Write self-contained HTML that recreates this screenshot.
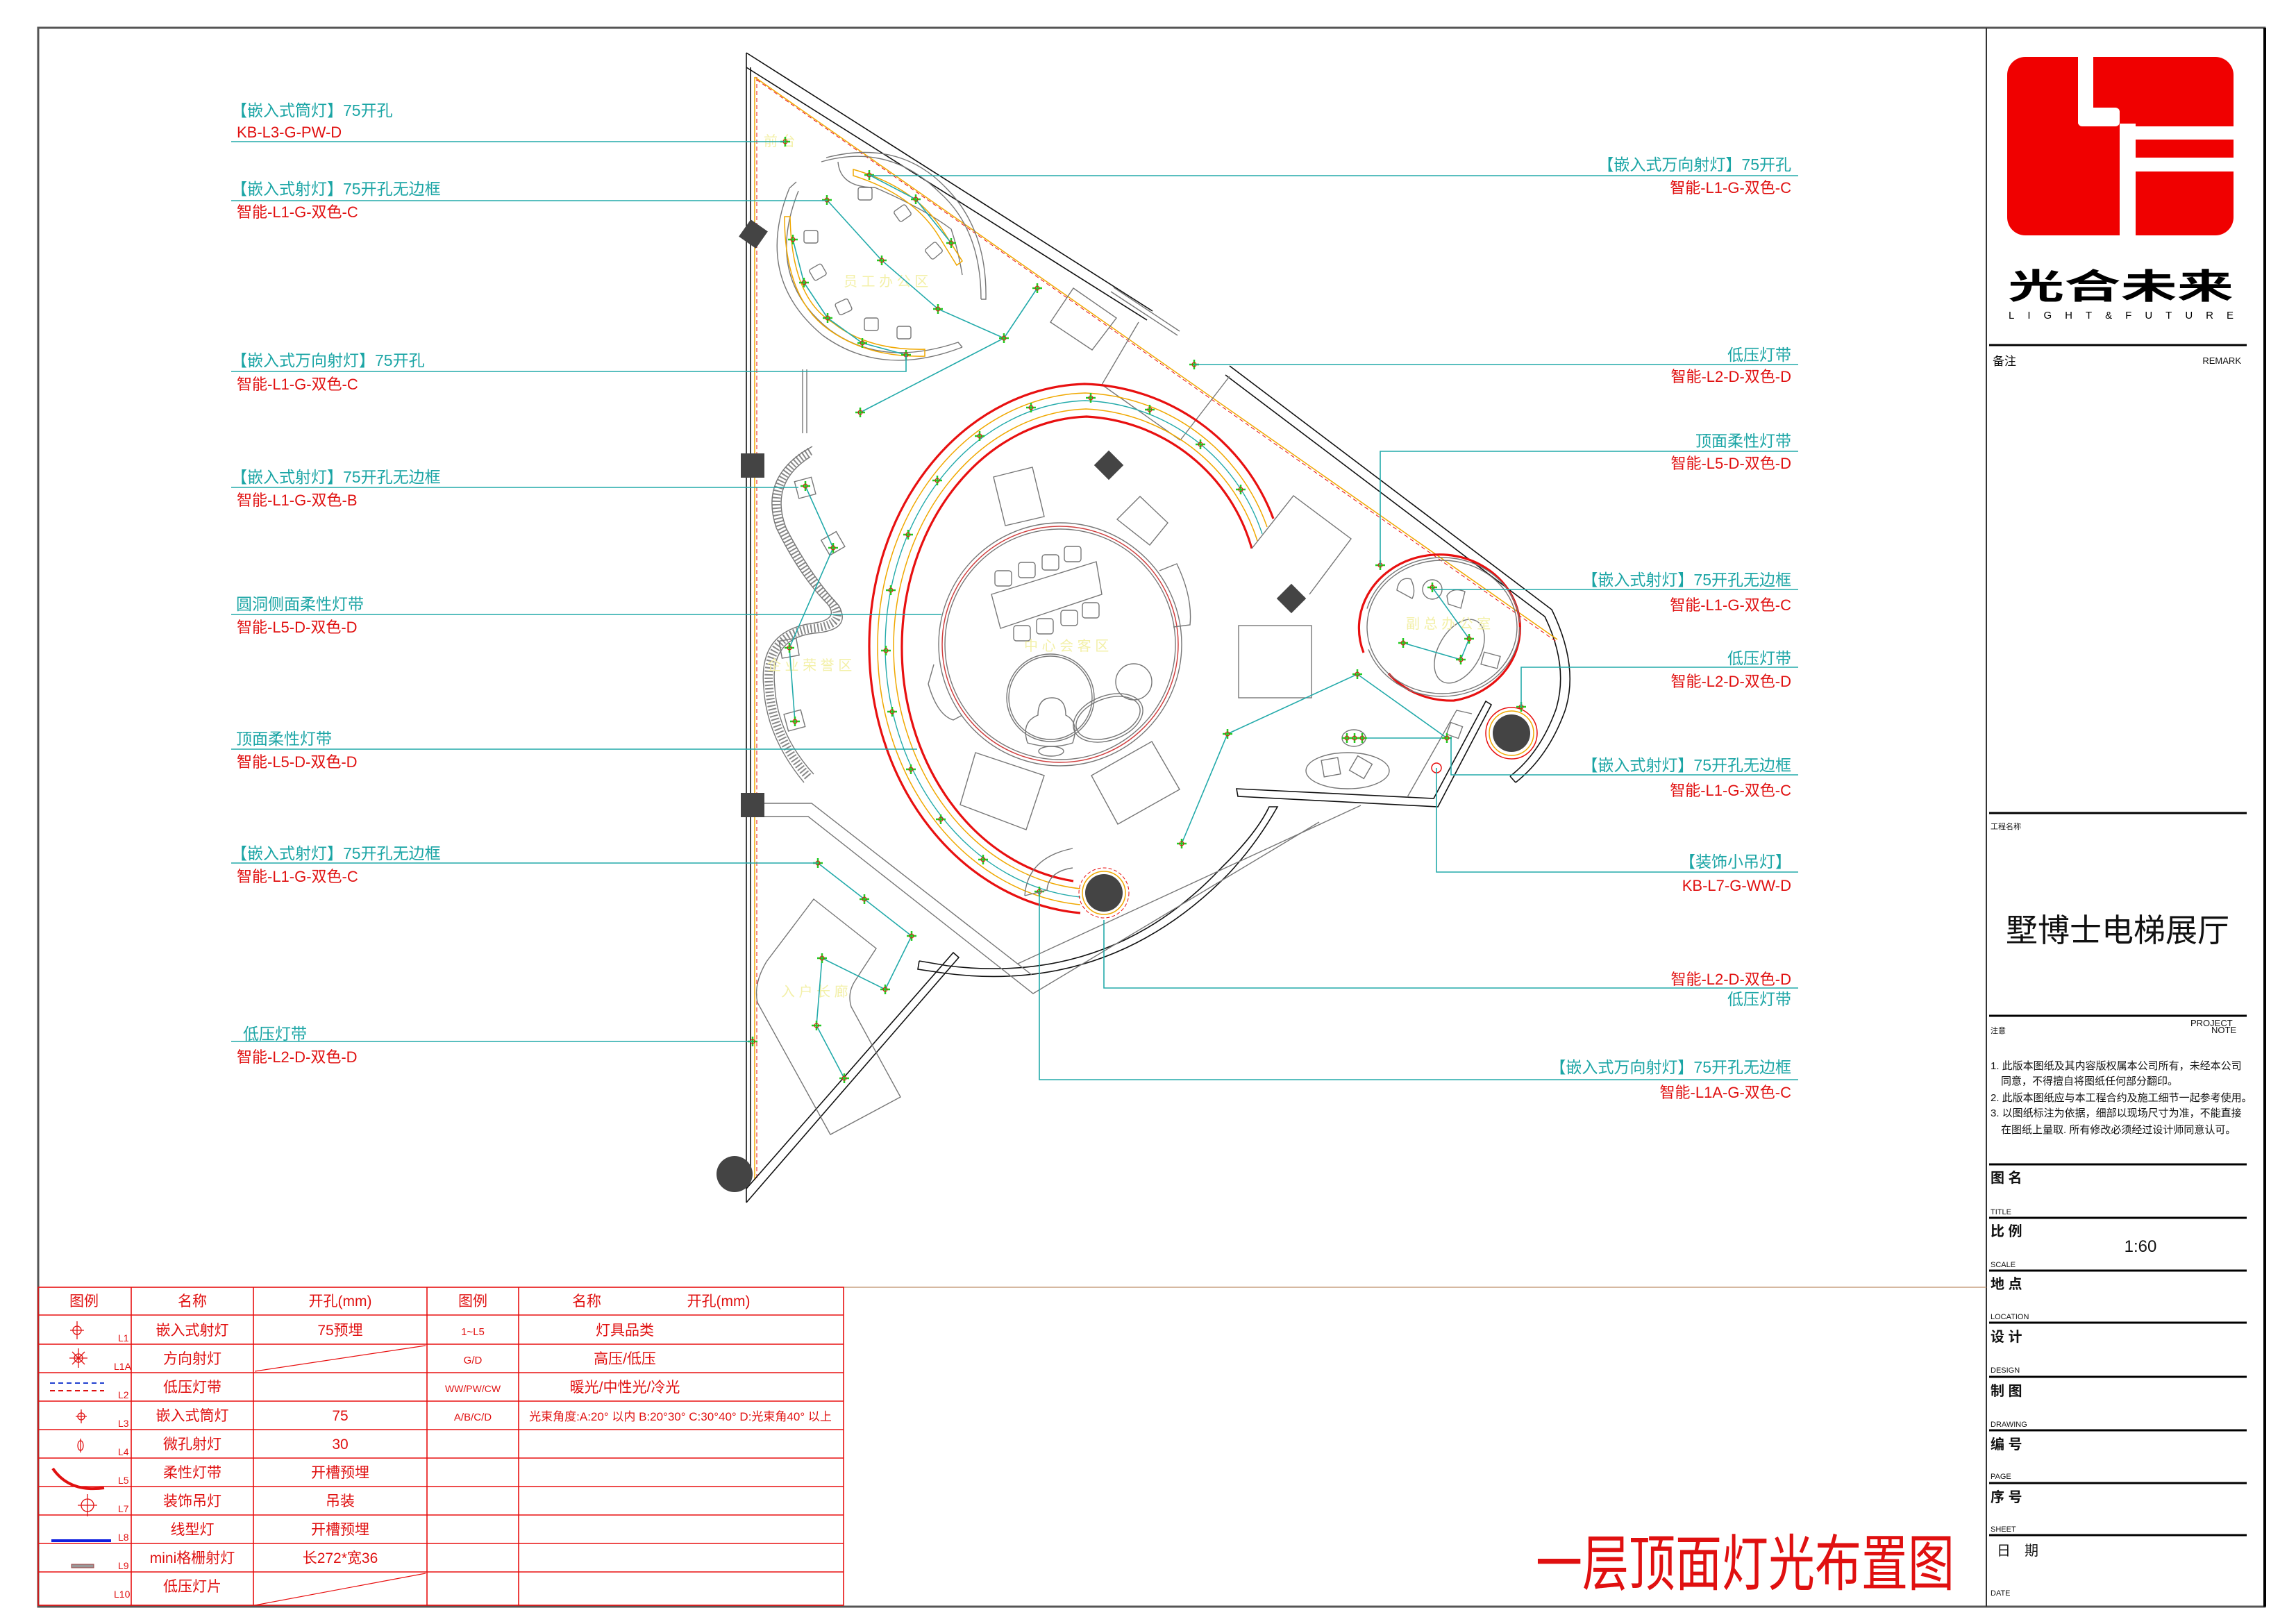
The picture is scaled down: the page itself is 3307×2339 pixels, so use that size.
<!DOCTYPE html>
<html><head><meta charset="utf-8"><style>
html,body{margin:0;padding:0;background:#fff}
svg{display:block}
text{font-family:"Liberation Sans","Noto Sans CJK SC",sans-serif}
.c{fill:#1ba5a5;font-size:23px}
.r{fill:#e01010;font-size:22px}
.t{fill:#e01010;font-size:21px;text-anchor:middle}
.ln{stroke:#22aaaa;stroke-width:1.6;fill:none}
.g{stroke:#777;stroke-width:1.4;fill:none}
.k{stroke:#111;stroke-width:1.6;fill:none}
.rd{stroke:#e81010;stroke-width:3.2;fill:none}
.or{stroke:#f0a800;stroke-width:1.5;fill:none}
.cy{stroke:#22aaaa;stroke-width:1.4;fill:none}
.tb{stroke:#e81010;stroke-width:1.6}
.y{fill:#f3f0a8;font-size:20px}
.s{font-size:11px;fill:#111}
.b{font-size:20px;font-weight:bold;fill:#111}
</style></head><body>
<svg width="3307" height="2339" viewBox="0 0 3307 2339" xmlns="http://www.w3.org/2000/svg">
<defs>
<g id="m"><path d="M-7,0H7M0,-7V7" stroke="#22cc22" stroke-width="2.5"/><circle r="3" fill="none" stroke="#e01010" stroke-width="1"/></g>
</defs>
<!-- frame -->
<rect x="55" y="40" width="3207" height="2274" fill="none" stroke="#555" stroke-width="3"/>
<line x1="2861" y1="40" x2="2861" y2="2314" stroke="#333" stroke-width="2"/>
<line x1="3262" y1="40" x2="3262" y2="2314" stroke="#000" stroke-width="4"/>
<line x1="1215" y1="1854" x2="2861" y2="1854" stroke="#c8a080" stroke-width="1.5"/>

<!-- ===== PLAN ===== -->
<!-- outer walls -->
<path class="k" d="M1075,76 V1732"/>
<path class="k" d="M1081,97 V1700"/>
<path d="M1087,111 V1700" stroke="#f0a800" stroke-width="1.5" fill="none"/>
<path d="M1090,111 V1700" stroke="#e81010" stroke-width="1" stroke-dasharray="6 4" fill="none"/>
<path class="k" d="M1075,76 L1660,448"/>
<path class="k" d="M1075,97 L1652,461"/>
<path class="k" d="M1771,527 L2235,878 Q2275,960 2254,1024 Q2230,1090 2183,1127"/>
<path class="k" d="M1765,540 L2225,888 Q2260,960 2241,1022 Q2218,1085 2175,1118"/>
<path class="k" d="M2175,1118 L2183,1127"/>
<path d="M1087,111 L2243,921" stroke="#f0a800" stroke-width="1.5" fill="none"/>
<path d="M1090,115 L2243,925" stroke="#e81010" stroke-width="1" stroke-dasharray="6 4" fill="none"/>
<path class="g" d="M1600,420 L1696,483 M1604,414 L1699,477"/>
<path class="g" d="M1640,464 L1587,554 L1700,634 M1771,542 L1700,634"/>
<!-- bottom diagonal wall -->
<path class="k" d="M1075,1732 L1381,1379 L1373,1372 L1075,1712"/>
<path class="k" d="M1324,1384 L1365,1391 M1324,1384 L1322,1396 L1363,1402"/>
<path class="k" d="M1365,1391 Q1600,1420 1760,1249 Q1810,1200 1828,1162 L1840,1162 Q1810,1215 1770,1258 Q1600,1432 1363,1402"/>
<path class="g" d="M1101,1157 L1169,1157 L1486,1404 M1101,1176 L1164,1176 L1488,1431 L1900,1184"/>
<path class="g" d="M1466,1388 L1960,1160"/>
<!-- entry room -->
<path class="g" d="M1172,1295 L1262,1366 L1232,1412 Q1220,1430 1226,1450 L1297,1580 L1196,1634 L1091,1444 Q1085,1417 1104,1385 Z"/>
<!-- dark items -->
<rect x="1067" y="1142" width="34" height="35" fill="#444"/>
<rect x="1067" y="653" width="34" height="35" fill="#444"/>
<rect x="1070" y="322" width="30" height="30" fill="#444" transform="rotate(35 1085 337)"/>
<circle cx="1058" cy="1691" r="26" fill="#444"/>
<rect x="1582" y="655" width="30" height="30" fill="#444" transform="rotate(45 1597 670)"/>
<rect x="1845" y="847" width="30" height="30" fill="#444" transform="rotate(45 1860 862)"/>
<!-- top-left workstation -->
<path class="g" d="M1137,271 Q1085,400 1185,483 Q1270,545 1386,500"/>
<path class="g" d="M1147,262 L1137,271 M1150,275 Q1100,400 1195,475 Q1270,530 1380,493 L1386,500"/>
<path class="or" d="M1138,312 Q1140,430 1200,465 Q1250,505 1332,503 L1332,513 Q1250,515 1194,475 Q1130,430 1130,312 Z"/>
<path class="g" d="M1183,233 Q1280,205 1353,277 Q1413,330 1413,431 M1190,227 Q1295,200 1362,270 Q1422,330 1420,431 L1413,431"/>
<path class="g" d="M1207,233 Q1210,270 1260,270 Q1330,300 1370,330 Q1380,360 1386,396"/>
<path class="or" d="M1229,244 Q1320,270 1360,335 L1386,376 L1378,382 L1352,340 Q1315,280 1229,253 Z"/>
<g class="g">
<rect x="1236" y="270" width="20" height="18" rx="3"/><rect x="1290" y="298" width="20" height="18" rx="3" transform="rotate(-35 1300 307)"/>
<rect x="1335" y="352" width="20" height="18" rx="3" transform="rotate(-40 1345 361)"/><rect x="1158" y="332" width="20" height="18" rx="3"/>
<rect x="1168" y="383" width="20" height="18" rx="3" transform="rotate(-30 1178 392)"/><rect x="1205" y="433" width="20" height="18" rx="3" transform="rotate(-25 1215 442)"/>
<rect x="1245" y="458" width="20" height="18" rx="3"/><rect x="1292" y="470" width="20" height="18" rx="3"/>
</g>
<path class="g" d="M1156,532 V624 M1162,532 V624"/>
<!-- wavy wall -->
<path d="M1167,650 Q1100,690 1125,760 Q1160,830 1200,870 Q1220,900 1170,905 Q1100,915 1108,990 Q1112,1060 1165,1120" fill="none" stroke="#888" stroke-width="12" stroke-dasharray="2 3"/>
<path class="g" d="M1170,643 Q1093,685 1118,760 Q1152,830 1192,870 Q1210,893 1168,898 Q1092,910 1100,990 Q1104,1062 1158,1127 M1167,658 Q1108,695 1132,760 Q1168,830 1208,872 Q1228,908 1172,912 Q1108,920 1116,990 Q1120,1058 1172,1115"/>
<g class="g"><rect x="1147" y="690" width="25" height="25" transform="rotate(-15 1160 702)"/><rect x="1187" y="770" width="25" height="25" transform="rotate(-30 1200 782)"/><rect x="1124" y="921" width="25" height="25" transform="rotate(-10 1137 933)"/><rect x="1132" y="1025" width="25" height="25" transform="rotate(-15 1145 1038)"/></g>
<!-- ring -->
<path class="rd" d="M1834,747 A300,300 0 0 0 1562,553 A318,377 0 0 0 1252,930 A330,385 0 0 0 1556,1315"/>
<path class="or" d="M1825,759 A290,290 0 0 0 1563,566 A306,365 0 0 0 1264,930 A318,373 0 0 0 1556,1303"/>
<path class="cy" d="M1818,769 A280,280 0 0 0 1563,577 A296,355 0 0 0 1275,930 A308,363 0 0 0 1556,1292"/>
<path class="or" d="M1811,779 A272,272 0 0 0 1564,589 A286,344 0 0 0 1287,930 A296,351 0 0 0 1556,1280"/>
<path class="rd" d="M1803,790 A262,262 0 0 0 1565,600 A274,332 0 0 0 1299,930 A284,339 0 0 0 1546,1269"/>
<g><use href="#m" x="1571" y="573"/><use href="#m" x="1485" y="587"/><use href="#m" x="1656" y="590"/><use href="#m" x="1411" y="628"/><use href="#m" x="1729" y="640"/><use href="#m" x="1350" y="692"/><use href="#m" x="1787" y="705"/><use href="#m" x="1308" y="770"/><use href="#m" x="1283" y="850"/><use href="#m" x="1276" y="937"/><use href="#m" x="1285" y="1025"/><use href="#m" x="1312" y="1108"/><use href="#m" x="1355" y="1180"/><use href="#m" x="1416" y="1238"/><use href="#m" x="1497" y="1284"/></g>
<!-- meeting room -->
<circle cx="1527" cy="928" r="175" class="g"/>
<circle cx="1527" cy="928" r="170" fill="none" stroke="#d04040" stroke-width="1.5"/>
<circle cx="1527" cy="928" r="166" class="g"/>
<path class="g" d="M1670,822 L1695,812 Q1718,860 1714,900 L1690,903 M1345,957 L1337,985 Q1350,1030 1373,1037 L1386,1030"/>
<g class="g">
<path d="M1431,687 L1487,673 L1504,744 L1448,757 Z"/><path d="M1609,748 L1642,715 L1682,753 L1656,785 Z"/>
<rect x="1784" y="901" width="105" height="104"/><path d="M1383,1159 L1405,1084 L1504,1117 L1478,1195 Z"/><path d="M1572,1117 L1659,1068 L1699,1137 L1610,1187 Z"/>
<path d="M1803,790 L1863,714 L1946,776 L1886,856"/><path d="M1513,464 L1546,415 L1608,458 L1573,504 Z"/>
<path d="M1428,856 L1579,809 L1587,856 L1441,905 Z"/>
<rect x="1433" y="822" width="24" height="22" rx="4"/><rect x="1467" y="810" width="24" height="22" rx="4"/><rect x="1501" y="799" width="24" height="22" rx="4"/><rect x="1533" y="787" width="24" height="22" rx="4"/>
<rect x="1460" y="901" width="24" height="22" rx="4"/><rect x="1493" y="891" width="24" height="22" rx="4"/><rect x="1528" y="879" width="24" height="22" rx="4"/><rect x="1559" y="868" width="24" height="22" rx="4"/>
<circle cx="1513" cy="1005" r="63"/><circle cx="1513" cy="1005" r="60"/>
<path d="M1480,1070 Q1470,1040 1495,1030 Q1495,1005 1515,1005 Q1535,1005 1535,1030 Q1555,1040 1545,1070 Q1515,1080 1480,1070 Z"/>
<ellipse cx="1596" cy="1034" rx="52" ry="32" transform="rotate(-20 1596 1034)"/><ellipse cx="1596" cy="1034" rx="48" ry="28" transform="rotate(-20 1596 1034)"/>
<circle cx="1633" cy="982" r="26"/><ellipse cx="1514" cy="1082" rx="18" ry="7"/>
</g>
<path class="g" d="M1476,1290 Q1480,1235 1545,1222 M1476,1290 L1508,1282 Q1510,1255 1545,1250"/>
<circle cx="1590" cy="1286" r="27" fill="#444"/>
<circle cx="1590" cy="1286" r="31" fill="none" stroke="#f0a800" stroke-width="1.5"/>
<circle cx="1590" cy="1286" r="36" fill="none" stroke="#e81010" stroke-width="1" stroke-dasharray="5 3"/>
<!-- right office -->
<path class="rd" d="M1964,940 A116,106 0 1 1 2094,1009 A116,106 0 0 1 2000,970"/>
<ellipse cx="2077" cy="903" rx="108" ry="96" class="g"/>
<ellipse cx="2077" cy="903" rx="112" ry="100" class="g" stroke-dasharray="300 60"/>
<ellipse cx="2102" cy="938" rx="30" ry="50" class="g" transform="rotate(30 2102 938)"/>
<circle cx="2063" cy="849" r="14" class="g"/>
<g class="g"><path d="M2012,850 Q2015,830 2032,834 Q2040,850 2034,862 Z"/><path d="M2084,858 Q2092,845 2110,852 L2104,876 L2086,870 Z"/><rect x="2135" y="942" width="24" height="18" transform="rotate(15 2147 951)"/></g>
<circle cx="2177" cy="1056" r="27" fill="#444"/>
<circle cx="2177" cy="1056" r="32" fill="none" stroke="#f0a800" stroke-width="1.5"/>
<circle cx="2177" cy="1056" r="37" fill="none" stroke="#e81010" stroke-width="1.5"/>
<path class="k" d="M1781,1136 L2065,1150 L2140,1010 L2148,1015 L2071,1162 L1783,1147 Z"/>
<path class="g" d="M2027,1148 L2098,1023 L2120,1028"/>
<ellipse cx="1941" cy="1110" rx="60" ry="26" class="g"/>
<g class="g"><rect x="1905" y="1093" width="24" height="24" transform="rotate(-10 1917 1105)"/><rect x="1948" y="1093" width="24" height="24" transform="rotate(30 1960 1105)"/><rect x="2086" y="1043" width="18" height="18" transform="rotate(20 2095 1052)"/></g>
<ellipse cx="1950" cy="1063" rx="17" ry="12" class="g"/>
<circle cx="2069" cy="1106" r="7" fill="none" stroke="#e81010" stroke-width="1.5"/>
<!-- room labels -->
<text class="y" x="1215" y="412">员 工 办 公 区</text>
<text class="y" x="1475" y="937">中 心 会 客 区</text>
<text class="y" x="1105" y="965">企 业 荣 誉 区</text>
<text class="y" x="2025" y="905">副 总 办 公 室</text>
<text class="y" x="1125" y="1435">入 户 长 廊</text>
<text class="y" x="1100" y="210">前 台</text>
<!-- internal circuit lines -->
<g class="ln">
<polyline points="1191,288 1270,375 1351,445 1446,487 1494,415"/><polyline points="1446,487 1239,594"/>
<polyline points="1252,252 1319,287 1370,350"/><polyline points="1142,345 1158,407 1192,458 1242,494 1305,511"/>
<polyline points="1160,700 1200,789 1137,933 1145,1039"/>
<polyline points="1178,1243 1245,1295 1313,1348 1275,1425 1184,1380 1176,1477 1216,1553"/>
<polyline points="1702,1215 1768,1057 1955,971 2084,1063"/><polyline points="1963,1063 2090,1063"/>
<polyline points="2063,846 2116,920 2104,950 2021,926"/>
</g>
<g>
<use href="#m" x="1191" y="288"/><use href="#m" x="1270" y="375"/><use href="#m" x="1351" y="445"/><use href="#m" x="1446" y="487"/><use href="#m" x="1494" y="415"/><use href="#m" x="1239" y="594"/>
<use href="#m" x="1252" y="252"/><use href="#m" x="1319" y="287"/><use href="#m" x="1370" y="350"/>
<use href="#m" x="1142" y="345"/><use href="#m" x="1158" y="407"/><use href="#m" x="1192" y="458"/><use href="#m" x="1242" y="494"/><use href="#m" x="1305" y="511"/>
<use href="#m" x="1160" y="700"/><use href="#m" x="1200" y="789"/><use href="#m" x="1137" y="933"/><use href="#m" x="1145" y="1039"/>
<use href="#m" x="1178" y="1243"/><use href="#m" x="1245" y="1295"/><use href="#m" x="1313" y="1348"/><use href="#m" x="1275" y="1425"/><use href="#m" x="1184" y="1380"/><use href="#m" x="1176" y="1477"/><use href="#m" x="1216" y="1553"/>
<use href="#m" x="1702" y="1215"/><use href="#m" x="1768" y="1057"/><use href="#m" x="1955" y="971"/><use href="#m" x="2084" y="1063"/>
<use href="#m" x="1940" y="1063"/><use href="#m" x="1951" y="1063"/><use href="#m" x="1962" y="1063"/>
<use href="#m" x="2063" y="846"/><use href="#m" x="2116" y="920"/><use href="#m" x="2104" y="950"/><use href="#m" x="2021" y="926"/>
<use href="#m" x="1131" y="204"/><use href="#m" x="1720" y="525"/><use href="#m" x="1084" y="1500"/><use href="#m" x="1988" y="814"/><use href="#m" x="2191" y="1018"/>
</g>

<!-- ===== LEFT LABELS ===== -->
<g class="ln">
<line x1="333" y1="204" x2="1131" y2="204"/>
<line x1="333" y1="289" x2="1191" y2="289"/>
<polyline points="333,535 1305,535 1305,511"/>
<line x1="333" y1="702" x2="1150" y2="702"/>
<line x1="333" y1="885" x2="1356" y2="885"/>
<line x1="333" y1="1079" x2="1321" y2="1079"/>
<line x1="333" y1="1243" x2="1178" y2="1243"/>
<line x1="333" y1="1500" x2="1084" y2="1500"/>
</g>
<text class="c" x="333" y="167">【嵌入式筒灯】75开孔</text><text class="r" x="341" y="198">KB-L3-G-PW-D</text>
<text class="c" x="333" y="280">【嵌入式射灯】75开孔无边框</text><text class="r" x="341" y="313">智能-L1-G-双色-C</text>
<text class="c" x="333" y="527">【嵌入式万向射灯】75开孔</text><text class="r" x="341" y="561">智能-L1-G-双色-C</text>
<text class="c" x="333" y="695">【嵌入式射灯】75开孔无边框</text><text class="r" x="341" y="728">智能-L1-G-双色-B</text>
<text class="c" x="340" y="878">圆洞侧面柔性灯带</text><text class="r" x="341" y="911">智能-L5-D-双色-D</text>
<text class="c" x="340" y="1072">顶面柔性灯带</text><text class="r" x="341" y="1105">智能-L5-D-双色-D</text>
<text class="c" x="333" y="1237">【嵌入式射灯】75开孔无边框</text><text class="r" x="341" y="1270">智能-L1-G-双色-C</text>
<text class="c" x="350" y="1497">低压灯带</text><text class="r" x="341" y="1530">智能-L2-D-双色-D</text>

<!-- ===== RIGHT LABELS ===== -->
<g class="ln">
<line x1="1251" y1="253" x2="2590" y2="253"/>
<line x1="1720" y1="525" x2="2590" y2="525"/>
<polyline points="1988,814 1988,650 2590,650"/>
<line x1="2063" y1="849" x2="2590" y2="849"/>
<polyline points="2191,1018 2191,961 2590,961"/>
<polyline points="2090,1061 2090,1116 2590,1116"/>
<polyline points="2069,1106 2069,1256 2590,1256"/>
<polyline points="1590,1325 1590,1423 2590,1423"/>
<polyline points="1497,1285 1497,1555 2590,1555"/>
</g>
<g text-anchor="end">
<text class="c" x="2580" y="245">【嵌入式万向射灯】75开孔</text><text class="r" x="2580" y="278">智能-L1-G-双色-C</text>
<text class="c" x="2580" y="519">低压灯带</text><text class="r" x="2580" y="550">智能-L2-D-双色-D</text>
<text class="c" x="2580" y="643">顶面柔性灯带</text><text class="r" x="2580" y="675">智能-L5-D-双色-D</text>
<text class="c" x="2580" y="843">【嵌入式射灯】75开孔无边框</text><text class="r" x="2580" y="879">智能-L1-G-双色-C</text>
<text class="c" x="2580" y="956">低压灯带</text><text class="r" x="2580" y="989">智能-L2-D-双色-D</text>
<text class="c" x="2580" y="1110">【嵌入式射灯】75开孔无边框</text><text class="r" x="2580" y="1146">智能-L1-G-双色-C</text>
<text class="c" x="2580" y="1249">【装饰小吊灯】</text><text class="r" x="2580" y="1283">KB-L7-G-WW-D</text>
<text class="r" x="2580" y="1418">智能-L2-D-双色-D</text><text class="c" x="2580" y="1447">低压灯带</text>
<text class="c" x="2580" y="1545">【嵌入式万向射灯】75开孔无边框</text><text class="r" x="2580" y="1581">智能-L1A-G-双色-C</text>
</g>

<!-- ===== LEGEND TABLE ===== -->
<g class="tb">
<rect x="55" y="1854" width="1160" height="458" fill="none"/>
<line x1="189" y1="1854" x2="189" y2="2312"/><line x1="365" y1="1854" x2="365" y2="2312"/><line x1="615" y1="1854" x2="615" y2="2312"/><line x1="747" y1="1854" x2="747" y2="2312"/>
<line x1="55" y1="1894" x2="1215" y2="1894"/><line x1="55" y1="1936" x2="1215" y2="1936"/><line x1="55" y1="1977" x2="1215" y2="1977"/><line x1="55" y1="2018" x2="1215" y2="2018"/><line x1="55" y1="2059" x2="1215" y2="2059"/><line x1="55" y1="2100" x2="1215" y2="2100"/><line x1="55" y1="2141" x2="1215" y2="2141"/><line x1="55" y1="2182" x2="1215" y2="2182"/><line x1="55" y1="2223" x2="1215" y2="2223"/><line x1="55" y1="2264" x2="1215" y2="2264"/>
<line x1="367" y1="1975" x2="613" y2="1938" stroke-width="1.2"/><line x1="367" y1="2312" x2="613" y2="2266" stroke-width="1.2"/>
</g>
<text class="t" x="121" y="1881">图例</text><text class="t" x="277" y="1881">名称</text><text class="t" x="490" y="1881">开孔(mm)</text><text class="t" x="681" y="1881">图例</text><text class="t" x="845" y="1881">名称</text><text class="t" x="1035" y="1881">开孔(mm)</text>
<text class="t" x="277" y="1923">嵌入式射灯</text><text class="t" x="490" y="1923">75预埋</text><text class="t" x="681" y="1923" style="font-size:15px">1~L5</text><text class="t" x="900" y="1923">灯具品类</text>
<text class="t" x="277" y="1964">方向射灯</text><text class="t" x="681" y="1964" style="font-size:15px">G/D</text><text class="t" x="900" y="1964">高压/低压</text>
<text class="t" x="277" y="2005">低压灯带</text><text class="t" x="681" y="2005" style="font-size:14px">WW/PW/CW</text><text class="t" x="900" y="2005">暖光/中性光/冷光</text>
<text class="t" x="277" y="2046">嵌入式筒灯</text><text class="t" x="490" y="2046">75</text><text class="t" x="681" y="2046" style="font-size:15px">A/B/C/D</text><text class="t" x="980" y="2046" style="font-size:17px">光束角度:A:20° 以内 B:20°30° C:30°40° D:光束角40° 以上</text>
<text class="t" x="277" y="2087">微孔射灯</text><text class="t" x="490" y="2087">30</text>
<text class="t" x="277" y="2128">柔性灯带</text><text class="t" x="490" y="2128">开槽预埋</text>
<text class="t" x="277" y="2169">装饰吊灯</text><text class="t" x="490" y="2169">吊装</text>
<text class="t" x="277" y="2210">线型灯</text><text class="t" x="490" y="2210">开槽预埋</text>
<text class="t" x="277" y="2251">mini格栅射灯</text><text class="t" x="490" y="2251">长272*宽36</text>
<text class="t" x="277" y="2292">低压灯片</text>
<g fill="#e01010" style="font-size:14px">
<text x="170" y="1932">L1</text><text x="164" y="1973">L1A</text><text x="170" y="2014">L2</text><text x="170" y="2055">L3</text><text x="170" y="2096">L4</text><text x="170" y="2137">L5</text><text x="170" y="2178">L7</text><text x="170" y="2219">L8</text><text x="170" y="2260">L9</text><text x="164" y="2301">L10</text>
</g>
<g stroke="#e01010" fill="none" stroke-width="1.3">
<circle cx="111" cy="1916" r="6"/><path d="M101,1916H121M111,1903V1929"/>
<circle cx="113" cy="1956" r="6"/><path d="M100,1956H126M113,1942V1970M104,1947L122,1965M122,1947L104,1965"/>
<circle cx="117" cy="2040" r="5"/><path d="M109,2040H125M117,2030V2050"/>
<ellipse cx="116" cy="2082" rx="4" ry="7"/><path d="M116,2072V2092"/>
<path d="M76,2115 Q100,2150 150,2143" stroke-width="4"/>
<circle cx="126" cy="2168" r="9"/><path d="M112,2168H140M126,2152V2184"/>
</g>
<path d="M72,1992H150" stroke="#2040d0" stroke-width="2" stroke-dasharray="7 5"/>
<path d="M72,2003H150" stroke="#e01010" stroke-width="2" stroke-dasharray="7 5"/>
<path d="M74,2219H160" stroke="#1020e0" stroke-width="4"/>
<rect x="103" y="2253" width="32" height="5" fill="#999" stroke="#a04040" stroke-width="1"/>

<!-- big title -->
<text x="2212" y="2283" fill="#e01010" style="font-size:88px" textLength="603" lengthAdjust="spacingAndGlyphs">一层顶面灯光布置图</text>

<!-- ===== TITLE BLOCK ===== -->
<rect x="2891" y="82" width="326" height="257" rx="26" fill="#f00000"/>
<g fill="#fff">
<rect x="2993" y="78" width="22" height="100"/><rect x="2993" y="155" width="60" height="27" rx="6"/>
<rect x="3053" y="178" width="23" height="165"/><rect x="3053" y="182" width="168" height="19"/><rect x="3076" y="227" width="145" height="20"/>
</g>
<text x="2892" y="430" style="font-size:50px;font-weight:bold" fill="#000" textLength="325" lengthAdjust="spacingAndGlyphs">光合未来</text>
<text x="2893" y="459" style="font-size:15px" fill="#000" textLength="324" lengthAdjust="spacing">LIGHT&amp;FUTURE</text>
<g stroke="#000" stroke-width="3">
<line x1="2865" y1="497" x2="3236" y2="497"/><line x1="2865" y1="1171" x2="3236" y2="1171"/><line x1="2865" y1="1463" x2="3236" y2="1463"/>
<line x1="2865" y1="1677" x2="3236" y2="1677"/><line x1="2865" y1="1754" x2="3236" y2="1754"/><line x1="2865" y1="1830" x2="3236" y2="1830"/>
<line x1="2865" y1="1905" x2="3236" y2="1905"/><line x1="2865" y1="1983" x2="3236" y2="1983"/><line x1="2865" y1="2060" x2="3236" y2="2060"/>
<line x1="2865" y1="2136" x2="3236" y2="2136"/><line x1="2865" y1="2211" x2="3236" y2="2211"/>
</g>
<text x="2870" y="526" style="font-size:17px" fill="#111">备注</text>
<text x="3228" y="524" style="font-size:13px" fill="#111" text-anchor="end">REMARK</text>
<text x="2867" y="1194" class="s">工程名称</text>
<text x="3050" y="1356" style="font-size:46px" fill="#111" text-anchor="middle" font-family="Liberation Serif,Noto Serif CJK SC,serif">墅博士电梯展厅</text>
<text x="2867" y="1488" class="s">注意</text>
<text x="3155" y="1478" class="s" style="font-size:13px">PROJECT</text><text x="3185" y="1488" class="s" style="font-size:13px">NOTE</text>
<g style="font-size:15px" fill="#111">
<text x="2867" y="1540">1. 此版本图纸及其内容版权属本公司所有，未经本公司</text>
<text x="2882" y="1562">同意，不得擅自将图纸任何部分翻印。</text>
<text x="2867" y="1586">2. 此版本图纸应与本工程合约及施工细节一起参考使用。</text>
<text x="2867" y="1608">3. 以图纸标注为依据，细部以现场尺寸为准，不能直接</text>
<text x="2882" y="1632">在图纸上量取. 所有修改必须经过设计师同意认可。</text>
</g>
<text x="2867" y="1703" class="b">图 名</text><text x="2867" y="1749" class="s">TITLE</text>
<text x="2867" y="1780" class="b">比 例</text><text x="2867" y="1825" class="s">SCALE</text>
<text x="3083" y="1803" style="font-size:24px" fill="#111" text-anchor="middle">1:60</text>
<text x="2867" y="1856" class="b">地 点</text><text x="2867" y="1900" class="s">LOCATION</text>
<text x="2867" y="1932" class="b">设 计</text><text x="2867" y="1977" class="s">DESIGN</text>
<text x="2867" y="2010" class="b">制 图</text><text x="2867" y="2055" class="s">DRAWING</text>
<text x="2867" y="2087" class="b">编 号</text><text x="2867" y="2130" class="s">PAGE</text>
<text x="2867" y="2163" class="b">序 号</text><text x="2867" y="2206" class="s">SHEET</text>
<text x="2876" y="2240" style="font-size:20px" fill="#111">日　期</text><text x="2867" y="2298" class="s">DATE</text>
</svg>
</body></html>
